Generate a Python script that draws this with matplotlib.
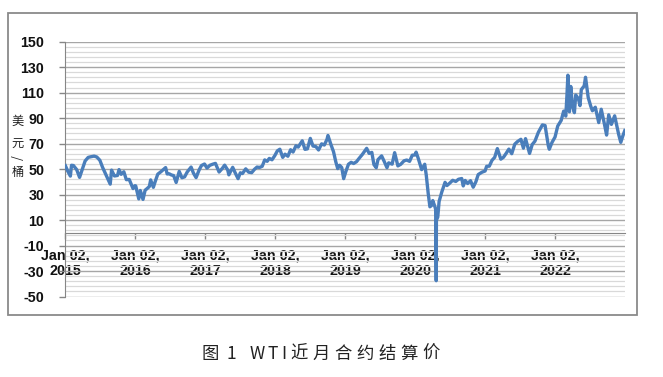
import pandas as pd
import numpy as np
import matplotlib.pyplot as plt
from matplotlib.patches import Rectangle

plt.rcParams['axes.unicode_minus'] = False
plt.rcParams['font.family'] = ['Liberation Sans', 'DejaVu Sans']
plt.rcParams['font.weight'] = 'bold'

# WTI front-month settlement prices (USD/bbl)
p2015 = [("01-02", 52.7), ("01-14", 48.5), ("01-28", 44.5), ("02-03", 53.0), ("02-13", 52.8),
         ("03-02", 49.6), ("03-17", 43.5), ("04-01", 50.1), ("04-15", 56.4), ("05-01", 59.2),
         ("05-15", 59.7), ("06-01", 60.2), ("06-15", 59.5), ("07-01", 56.9), ("07-15", 51.4),
         ("08-03", 45.2), ("08-24", 38.2), ("08-31", 49.2), ("09-15", 44.6), ("10-01", 45.0),
         ("10-09", 49.6), ("10-20", 45.9), ("11-03", 47.9), ("11-16", 41.7), ("12-01", 41.9),
         ("12-21", 34.7), ("12-31", 37.0)]
p2016 = [("01-04", 36.8), ("01-20", 26.6), ("01-28", 33.2), ("02-11", 26.2), ("02-22", 33.4),
         ("03-01", 34.4), ("03-15", 36.3), ("03-22", 41.5), ("04-05", 35.7), ("04-15", 40.4),
         ("04-28", 46.0), ("05-15", 48.0), ("06-08", 51.2), ("06-16", 46.2), ("06-27", 46.3),
         ("07-08", 45.4), ("07-20", 44.9), ("08-02", 39.5), ("08-18", 48.2), ("09-01", 43.2),
         ("09-15", 43.9), ("09-29", 47.8), ("10-19", 51.6), ("10-31", 46.9), ("11-14", 43.3),
         ("11-30", 49.4), ("12-12", 52.8), ("12-28", 54.0)]
p2017 = [("01-10", 50.8), ("01-25", 53.0), ("02-10", 53.9), ("02-23", 54.5), ("03-14", 47.7),
         ("03-31", 50.6), ("04-12", 53.1), ("04-28", 49.3), ("05-04", 45.5), ("05-24", 51.4),
         ("06-05", 47.4), ("06-21", 42.5), ("07-03", 47.1), ("07-14", 46.5), ("07-31", 50.2),
         ("08-15", 47.6), ("08-31", 47.2), ("09-15", 49.9), ("09-28", 51.6), ("10-11", 51.3),
         ("10-25", 52.2), ("11-07", 57.2), ("11-20", 56.1), ("12-01", 58.4), ("12-15", 57.3),
         ("12-29", 60.4)]
p2018 = [("01-12", 64.3), ("01-25", 65.6), ("02-09", 59.2), ("02-21", 61.7), ("03-08", 60.1),
         ("03-22", 65.2), ("04-04", 63.4), ("04-19", 68.3), ("05-01", 67.3), ("05-22", 72.2),
         ("06-05", 65.5), ("06-18", 65.9), ("07-03", 74.1), ("07-17", 68.1), ("08-01", 67.7),
         ("08-15", 65.0), ("08-31", 69.8), ("09-14", 68.9), ("09-28", 73.3), ("10-03", 76.4),
         ("10-19", 69.1), ("11-01", 63.7), ("11-13", 55.7), ("11-23", 50.4), ("12-03", 53.0),
         ("12-14", 51.2), ("12-24", 42.5)]
p2019 = [("01-04", 47.9), ("01-18", 53.8), ("02-01", 55.3), ("02-14", 54.4), ("03-01", 55.8),
         ("03-15", 58.5), ("04-01", 61.6), ("04-23", 66.3), ("05-06", 62.3), ("05-20", 63.1),
         ("05-31", 53.5), ("06-12", 51.1), ("06-21", 57.4), ("07-10", 60.4), ("07-24", 55.9),
         ("08-07", 51.1), ("08-16", 54.9), ("09-03", 53.9), ("09-16", 62.9), ("10-03", 52.5),
         ("10-18", 53.8), ("11-04", 56.5), ("11-18", 57.1), ("12-03", 56.1), ("12-17", 60.9),
         ("12-31", 61.1)]
p2020 = [("01-06", 63.3), ("01-17", 58.5), ("02-04", 49.6), ("02-20", 53.8), ("02-28", 45.3),
         ("03-09", 31.1), ("03-18", 20.4), ("03-27", 21.5), ("04-02", 25.3), ("04-14", 20.1),
         ("04-17", 18.3), ("04-20", -37.6), ("04-21", 10.0), ("04-28", 12.3), ("05-05", 24.6),
         ("05-19", 32.0), ("06-05", 39.6), ("06-15", 37.1), ("06-26", 38.5), ("07-15", 41.2),
         ("07-31", 40.3), ("08-14", 42.0), ("08-31", 42.6), ("09-08", 36.8), ("09-18", 41.1),
         ("10-01", 38.7), ("10-16", 40.9), ("10-30", 35.8), ("11-13", 40.1), ("11-25", 45.7),
         ("12-15", 47.6), ("12-31", 48.5)]
p2021 = [("01-08", 52.2), ("01-22", 52.3), ("02-05", 56.9), ("02-19", 59.2), ("03-05", 66.1),
         ("03-23", 57.8), ("04-06", 59.3), ("04-20", 62.4), ("05-04", 65.7), ("05-19", 62.1),
         ("06-04", 69.6), ("06-18", 71.6), ("07-06", 73.4), ("07-19", 66.4), ("07-30", 73.9),
         ("08-20", 62.3), ("09-03", 69.3), ("09-17", 71.9), ("10-05", 78.9), ("10-26", 84.7),
         ("11-09", 84.2), ("11-26", 68.2), ("12-01", 65.6), ("12-15", 70.9), ("12-31", 75.2)]
p2022 = [("01-14", 83.8), ("02-01", 88.2), ("02-14", 95.5), ("02-25", 91.6), ("03-03", 107.7),
         ("03-08", 123.7), ("03-16", 95.0), ("03-23", 114.9), ("04-01", 99.3), ("04-11", 94.3),
         ("04-18", 108.2), ("05-02", 105.2), ("05-10", 99.8), ("05-17", 112.4), ("06-01", 115.3),
         ("06-08", 122.1), ("06-22", 106.2), ("07-05", 99.5), ("07-14", 95.8), ("07-29", 98.6),
         ("08-16", 86.5), ("08-29", 97.0), ("09-15", 85.1), ("09-26", 76.7), ("10-07", 92.6),
         ("10-21", 85.1), ("11-07", 91.8), ("11-28", 77.2), ("12-09", 71.0), ("12-20", 76.2),
         ("12-30", 80.3)]

years = [2015, 2016, 2017, 2018, 2019, 2020, 2021, 2022]
tick_labels = [f"Jan 02,\n{y}" for y in years]
y_ticks = [-50, -30, -10, 10, 30, 50, 70, 90, 110, 130, 150]

rows = []
for y, pts in zip(years, [p2015, p2016, p2017, p2018, p2019, p2020, p2021, p2022]):
    for md, v in pts:
        rows.append((pd.Timestamp(f"{y}-{md}"), v))
df = pd.DataFrame(rows, columns=["date", "price"]).sort_values("date")

W, H = 663, 377
fig = plt.figure(figsize=(W / 100, H / 100), dpi=100)

# outer chart border
fig.patches.append(Rectangle((8 / W, 1 - 315 / H), 629 / W, 302 / H, transform=fig.transFigure,
                             fill=False, edgecolor="#8a8a8a", linewidth=1.3))

ax = fig.add_axes([65 / W, 1 - 296.5 / H, 560 / W, (296.5 - 41.7) / H])
ax.plot(df["date"], df["price"], color="#4a7ebb", linewidth=2.4, zorder=3)

ax.set_ylim(-50, 150)
ax.set_xlim(pd.Timestamp("2014-12-31"), pd.Timestamp("2022-12-31"))
ax.set_yticks(y_ticks)
ax.set_yticks(np.arange(-50, 151, 4), minor=True)
ax.grid(which="major", axis="y", color="#a6a6a6", linewidth=1.0)
ax.grid(which="minor", axis="y", color="#d9d9d9", linewidth=0.9)
ax.set_axisbelow(True)

ax.set_xticks([pd.Timestamp(f"{y}-01-02") for y in years])
ax.set_xticklabels(tick_labels)
ax.tick_params(axis="x", length=4, width=1, color="#868686", labelcolor="#111111",
               pad=7, labelsize=10.3)
ax.tick_params(axis="y", which="major", length=4, width=1, color="#868686",
               labelcolor="#111111", pad=11, labelsize=10.3)
ax.tick_params(axis="y", which="minor", length=0)
plt.setp(ax.get_xticklabels(), linespacing=1.75)

for s in ["top", "right"]:
    ax.spines[s].set_visible(False)
ax.spines["bottom"].set_position(("data", 0))
ax.spines["bottom"].set_color("#868686")
ax.spines["left"].set_color("#868686")

cjk = ["Noto Sans CJK SC", "DejaVu Sans"]
# stacked unit label
for ch, ypx, rot in [("美", 121, 0), ("元", 143, 0), ("/", 158, 90), ("桶", 172, 0)]:
    fig.text(18 / W, 1 - ypx / H, ch, family=cjk, fontweight="normal", fontsize=8.8,
             ha="center", va="center", rotation=rot, color="#222222")

# caption, letter-spaced as in the source
caption = [("图", 210), ("1", 231), ("W", 257), ("T", 273), ("I", 284), ("近", 299),
           ("月", 321), ("合", 343), ("约", 365), ("结", 387), ("算", 409), ("价", 431)]
for ch, xpx in caption:
    fig.text(xpx / W, 1 - 354 / H, ch, family=cjk, fontweight="normal", fontsize=12.5,
             ha="center", va="center", color="#222222")

fig.savefig("out.png", dpi=100)
